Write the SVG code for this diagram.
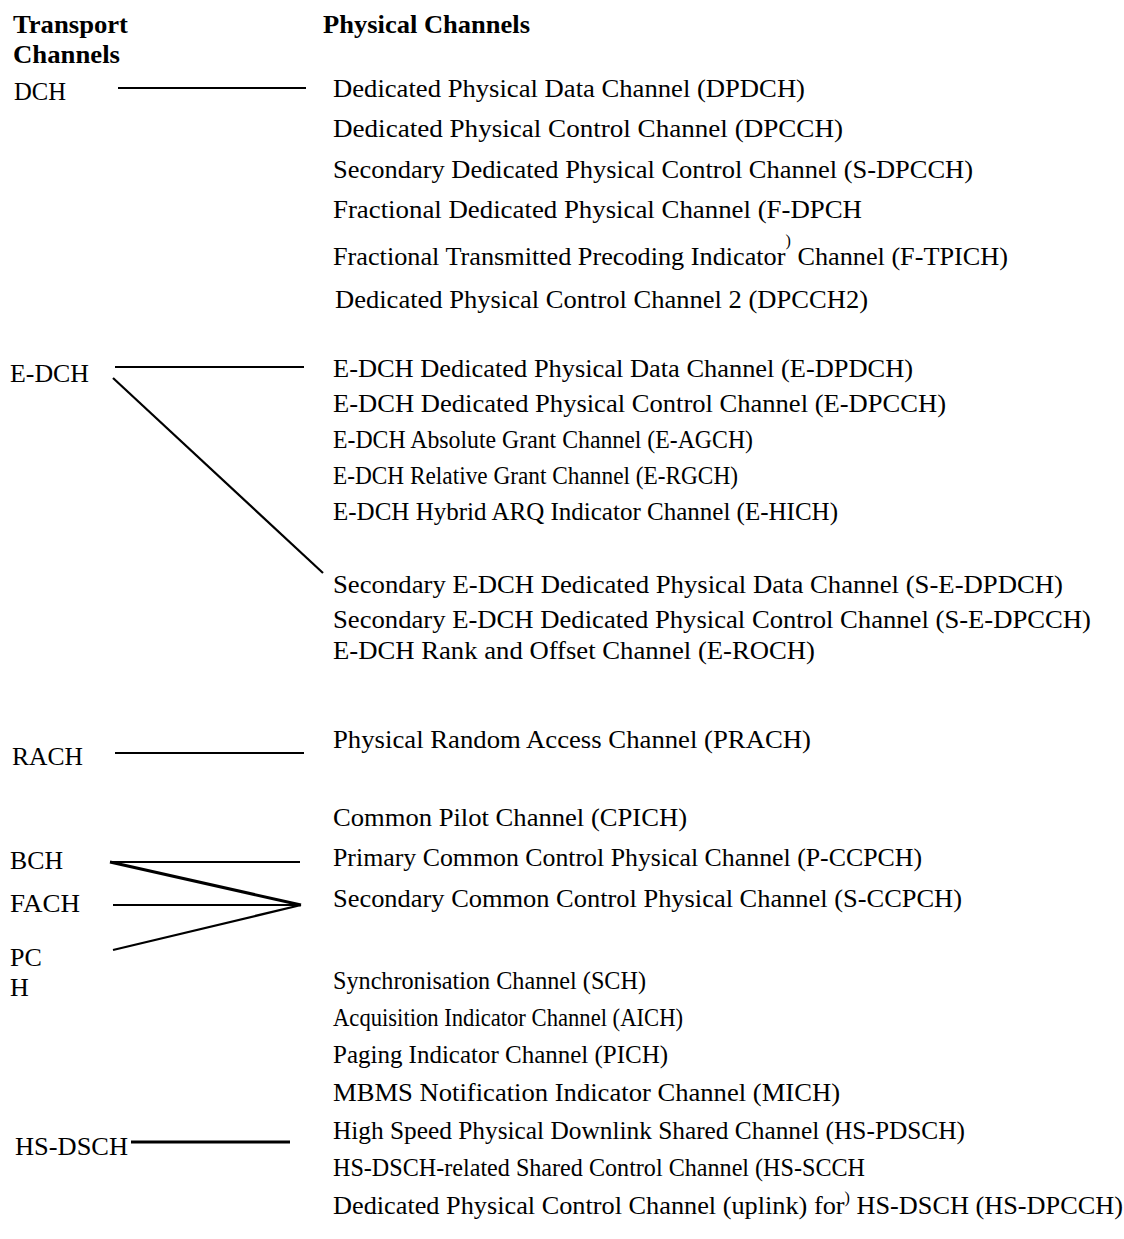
<svg xmlns="http://www.w3.org/2000/svg" width="1124" height="1239" viewBox="0 0 1124 1239">
<style>
text { font-family: "Liberation Serif", "Times New Roman", serif; font-size: 26px; fill: #000; }
.h { font-weight: bold; }
.stray { font-size: 16px; }
.ln { stroke: #000; stroke-width: 2.2; fill: none; stroke-linecap: butt; }
.thick { stroke-width: 3; }
</style>
<rect width="1124" height="1239" fill="#fff"/>
<g id="headers">
<text class="h" x="13" y="33" textLength="115" lengthAdjust="spacingAndGlyphs">Transport</text>
<text class="h" x="13" y="63" textLength="107" lengthAdjust="spacingAndGlyphs">Channels</text>
<text class="h" x="323" y="33" textLength="207" lengthAdjust="spacingAndGlyphs">Physical Channels</text>
</g>
<g id="transport">
<g id="t-dch"><text x="14" y="100" textLength="52" lengthAdjust="spacingAndGlyphs">DCH</text></g>
<g id="t-edch"><text x="10" y="382" textLength="79" lengthAdjust="spacingAndGlyphs">E-DCH</text></g>
<g id="t-rach"><text x="12" y="765" textLength="71" lengthAdjust="spacingAndGlyphs">RACH</text></g>
<g id="t-bch"><text x="10" y="869" textLength="53" lengthAdjust="spacingAndGlyphs">BCH</text></g>
<g id="t-fach"><text x="10" y="912" textLength="70" lengthAdjust="spacingAndGlyphs">FACH</text></g>
<g id="t-pch"><text x="10" y="966">PC</text><text x="10" y="996">H</text></g>
<g id="t-hsdsch"><text x="15" y="1155" textLength="113" lengthAdjust="spacingAndGlyphs">HS-DSCH</text></g>
</g>
<g id="physical">
<g id="p1"><text x="333" y="97" textLength="472" lengthAdjust="spacingAndGlyphs">Dedicated Physical Data Channel (DPDCH)</text></g>
<g id="p2"><text x="333" y="137" textLength="510" lengthAdjust="spacingAndGlyphs">Dedicated Physical Control Channel (DPCCH)</text></g>
<g id="p3"><text x="333" y="178" textLength="640" lengthAdjust="spacingAndGlyphs">Secondary Dedicated Physical Control Channel (S-DPCCH)</text></g>
<g id="p4"><text x="333" y="218" textLength="529" lengthAdjust="spacingAndGlyphs">Fractional Dedicated Physical Channel (F-DPCH</text></g>
<g id="p5"><text x="333" y="265" textLength="675" lengthAdjust="spacingAndGlyphs">Fractional Transmitted Precoding Indicator<tspan class="stray" dy="-19">)</tspan><tspan dy="19"> Channel (F-TPICH)</tspan></text></g>
<g id="p6"><text x="335" y="308" textLength="533" lengthAdjust="spacingAndGlyphs">Dedicated Physical Control Channel 2 (DPCCH2)</text></g>
<g id="p7"><text x="333" y="377" textLength="580" lengthAdjust="spacingAndGlyphs">E-DCH Dedicated Physical Data Channel (E-DPDCH)</text></g>
<g id="p8"><text x="333" y="412" textLength="613" lengthAdjust="spacingAndGlyphs">E-DCH Dedicated Physical Control Channel (E-DPCCH)</text></g>
<g id="p9"><text x="333" y="448" textLength="420" lengthAdjust="spacingAndGlyphs">E-DCH Absolute Grant Channel (E-AGCH)</text></g>
<g id="p10"><text x="333" y="484" textLength="405" lengthAdjust="spacingAndGlyphs">E-DCH Relative Grant Channel (E-RGCH)</text></g>
<g id="p11"><text x="333" y="520" textLength="505" lengthAdjust="spacingAndGlyphs">E-DCH Hybrid ARQ Indicator Channel (E-HICH)</text></g>
<g id="p12"><text x="333" y="593" textLength="730" lengthAdjust="spacingAndGlyphs">Secondary E-DCH Dedicated Physical Data Channel (S-E-DPDCH)</text></g>
<g id="p13"><text x="333" y="628" textLength="758" lengthAdjust="spacingAndGlyphs">Secondary E-DCH Dedicated Physical Control Channel (S-E-DPCCH)</text></g>
<g id="p14"><text x="333" y="659" textLength="482" lengthAdjust="spacingAndGlyphs">E-DCH Rank and Offset Channel (E-ROCH)</text></g>
<g id="p15"><text x="333" y="748" textLength="478" lengthAdjust="spacingAndGlyphs">Physical Random Access Channel (PRACH)</text></g>
<g id="p16"><text x="333" y="826" textLength="354" lengthAdjust="spacingAndGlyphs">Common Pilot Channel (CPICH)</text></g>
<g id="p17"><text x="333" y="866" textLength="589" lengthAdjust="spacingAndGlyphs">Primary Common Control Physical Channel (P-CCPCH)</text></g>
<g id="p18"><text x="333" y="907" textLength="629" lengthAdjust="spacingAndGlyphs">Secondary Common Control Physical Channel (S-CCPCH)</text></g>
<g id="p19"><text x="333" y="989" textLength="313" lengthAdjust="spacingAndGlyphs">Synchronisation Channel (SCH)</text></g>
<g id="p20"><text x="333" y="1026" textLength="350" lengthAdjust="spacingAndGlyphs">Acquisition Indicator Channel (AICH)</text></g>
<g id="p21"><text x="333" y="1063" textLength="335" lengthAdjust="spacingAndGlyphs">Paging Indicator Channel (PICH)</text></g>
<g id="p22"><text x="333" y="1101" textLength="507" lengthAdjust="spacingAndGlyphs">MBMS Notification Indicator Channel (MICH)</text></g>
<g id="p23"><text x="333" y="1139" textLength="632" lengthAdjust="spacingAndGlyphs">High Speed Physical Downlink Shared Channel (HS-PDSCH)</text></g>
<g id="p24"><text x="333" y="1176" textLength="532" lengthAdjust="spacingAndGlyphs">HS-DSCH-related Shared Control Channel (HS-SCCH</text></g>
<g id="p25"><text x="333" y="1214" textLength="790" lengthAdjust="spacingAndGlyphs">Dedicated Physical Control Channel (uplink) for<tspan class="stray" dy="-11">)</tspan><tspan dy="11"> HS-DSCH (HS-DPCCH)</tspan></text></g>
</g>
<g id="connectors">
<line class="ln" x1="118" y1="88" x2="306" y2="88"/>
<line class="ln" x1="115" y1="367" x2="304" y2="367"/>
<line class="ln" x1="113" y1="378" x2="323" y2="573"/>
<line class="ln" x1="115" y1="753" x2="304" y2="753"/>
<line class="ln" x1="110" y1="862" x2="300" y2="862"/>
<line class="ln thick" x1="110" y1="862" x2="301" y2="905"/>
<line class="ln" x1="113" y1="905" x2="301" y2="905"/>
<line class="ln" x1="113" y1="950" x2="301" y2="905"/>
<line class="ln thick" x1="131" y1="1142" x2="290" y2="1142"/>
</g>
</svg>
